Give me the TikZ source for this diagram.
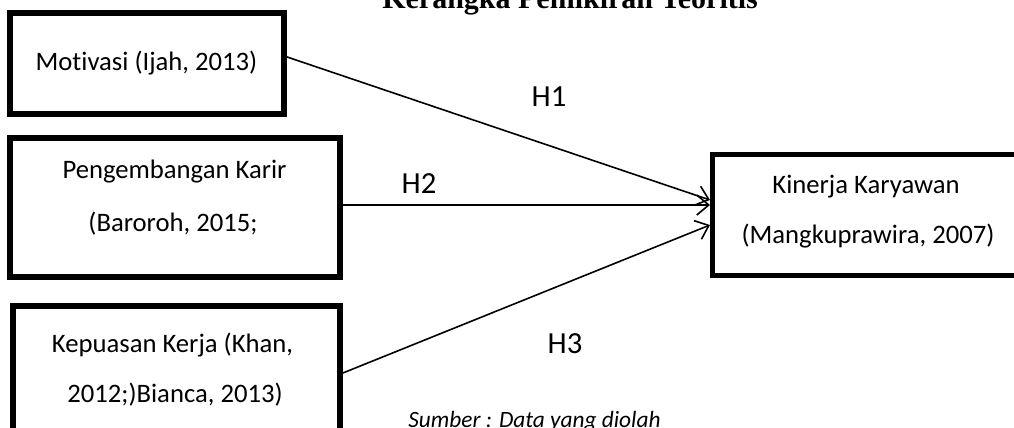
\documentclass[tikz,border=0pt]{standalone}
\usepackage{fontspec}
\setmainfont{Carlito}[Ligatures=NoCommon]
\newfontfamily\titlefont{Liberation Serif}
\usetikzlibrary{arrows.meta}
\begin{document}
\begin{tikzpicture}[x=0.75pt,y=-0.75pt,
  box/.style={draw=black,line width=4.5pt,inner sep=0pt},
  bigbox/.style={draw=black,line width=3.4pt,inner sep=0pt},
  txt/.style={inner sep=0pt,font=\fontsize{20}{24}\selectfont},
  hlab/.style={inner sep=0pt,font=\fontsize{23}{27}\selectfont},
  conn/.style={line width=1.2pt,-{Straight Barb[length=9pt,width=15pt,line width=1.2pt]}}]
\fill[white] (0,0) rectangle (1014,428);
\useasboundingbox (0,0) rectangle (1014,428);
% title
\node[inner sep=0pt,anchor=base west,font=\titlefont\bfseries\fontsize{22.5}{27}\selectfont] (title) at (382,9) {Kerangka Pemikiran Teoritis};
% boxes
\node[box,minimum width=205.5pt,minimum height=75.75pt] (b1) at (147,63.5) {};
\node[box,minimum width=247.5pt,minimum height=104.25pt] (b2) at (175,207.5) {};
\node[box,minimum width=245.6pt,minimum height=104.25pt] (b3) at (176.25,375.5) {};
\node[bigbox,minimum width=233pt,minimum height=91.1pt] (b4) at (867.6,215) {};
% texts
\node[txt,anchor=base] (t1) at (146.5,70) {Motivasi (Ijah, 2013)};
\node[txt,anchor=base] (t2a) at (174.5,178) {Pengembangan Karir};
\node[txt,anchor=base] (t2b) at (173,231) {(Baroroh, 2015;};
\node[txt,anchor=base] (t3a) at (172.5,352) {Kepuasan Kerja (Khan,};
\node[txt,anchor=base] (t3b) at (175,402) {2012;)Bianca, 2013)};
\node[txt,anchor=base] (t4a) at (866,193) {Kinerja Karyawan};
\node[txt,anchor=base] (t4b) at (868,243) {(Mangkuprawira, 2007)};
% connectors
\draw[conn] ([yshift=4.9pt]b1.east) -- ([yshift=11.25pt]b4.west);
\draw[conn] ([yshift=1.9pt]b2.east) -- ([yshift=7.5pt]b4.west);
\draw[conn] ([yshift=1.9pt]b3.east) -- ([yshift=-7.5pt]b4.west);
% labels
\node[hlab,anchor=base] (h1) at (549,107) {H1};
\node[hlab,anchor=base] (h2) at (419,193) {H2};
\node[hlab,anchor=base] (h3) at (565,353) {H3};
\node[inner sep=0pt,anchor=base,font=\itshape\fontsize{17.5}{21}\selectfont] (src) at (534.5,427) {Sumber : Data yang diolah};
\end{tikzpicture}
\end{document}
